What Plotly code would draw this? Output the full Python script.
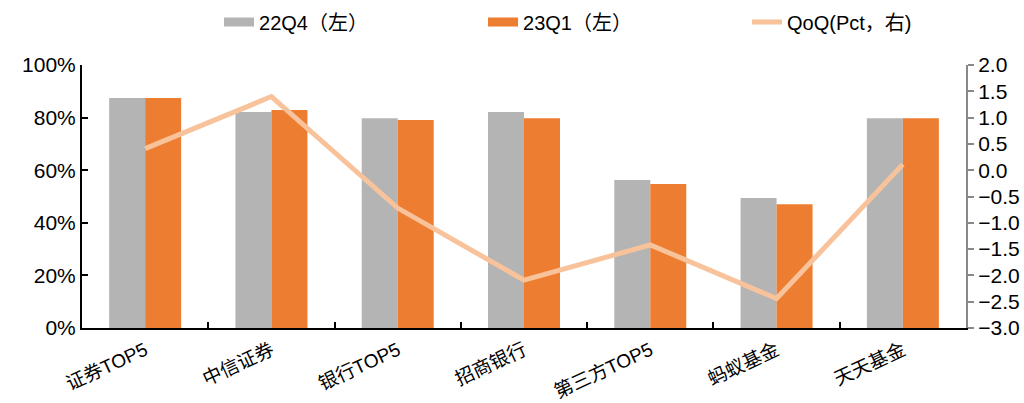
import plotly.graph_objects as go

categories = ["证券TOP5", "中信证券", "银行TOP5", "招商银行", "第三方TOP5", "蚂蚁基金", "天天基金"]
q22q4 = [0.875, 0.821, 0.798, 0.821, 0.563, 0.494, 0.798]
q23q1 = [0.875, 0.829, 0.791, 0.798, 0.548, 0.471, 0.798]
qoq = [0.41, 1.40, -0.72, -2.09, -1.42, -2.44, 0.11]

names = ["22Q4（左）", "23Q1（左）", "QoQ(Pct，右)"]
colors = ["#B4B4B4", "#ED7D31", "#F8C29A"]

FONT = "Liberation Sans, Arial, Noto Sans CJK SC"

fig = go.Figure()
fig.add_trace(go.Bar(x=categories, y=q22q4, name=names[0], marker_color=colors[0],
                     marker_line_width=0, showlegend=False))
fig.add_trace(go.Bar(x=categories, y=q23q1, name=names[1], marker_color=colors[1],
                     marker_line_width=0, showlegend=False))
# legend swatches (wide rectangles like the original)
fig.add_trace(go.Scatter(x=[None], y=[None], name=names[0], mode="lines",
                         line=dict(color=colors[0], width=9)))
fig.add_trace(go.Scatter(x=[None], y=[None], name=names[1], mode="lines",
                         line=dict(color=colors[1], width=9)))
fig.add_trace(go.Scatter(x=categories, y=qoq, name=names[2], mode="lines",
                         line=dict(color=colors[2], width=5), yaxis="y2"))

fig.update_layout(
    width=1024, height=403,
    margin=dict(l=82, r=58, t=65, b=75),
    paper_bgcolor="white", plot_bgcolor="white",
    font=dict(family=FONT, size=20, color="#000000"),
    barmode="group", bargap=0.43, bargroupgap=0,
    showlegend=True,
    legend=dict(orientation="h", x=0.155, xanchor="left", yref="container",
                y=1 - 22 / 403, yanchor="middle",
                font=dict(family=FONT, size=20), traceorder="normal",
                entrywidth=219, entrywidthmode="pixels", itemwidth=30,
                bgcolor="rgba(0,0,0,0)"),
    xaxis=dict(
        type="category", showline=True, linecolor="#000000", linewidth=2,
        ticks="inside", ticklen=6, tickwidth=2, tickcolor="#000000",
        tickson="boundaries", tickangle=-25, ticklabelstandoff=2,
        tickfont=dict(family=FONT, size=19), showgrid=False, zeroline=False,
        automargin=False,
    ),
    yaxis=dict(
        range=[0, 1], dtick=0.2, tickformat=".0%",
        showline=True, linecolor="#000000", linewidth=2,
        ticks="inside", ticklen=6, tickwidth=2, tickcolor="#000000",
        showgrid=False, zeroline=False, tickfont=dict(family=FONT, size=21),
        automargin=False,
    ),
    yaxis2=dict(
        range=[-3, 2], dtick=0.5, tickformat=".1f", overlaying="y", side="right",
        showline=True, linecolor="#888888", linewidth=2,
        ticks="outside", ticklen=6, tickwidth=2, tickcolor="#888888",
        showgrid=False, zeroline=False, tickfont=dict(family=FONT, size=21),
        automargin=False,
    ),
)

fig.write_html("out.html")
